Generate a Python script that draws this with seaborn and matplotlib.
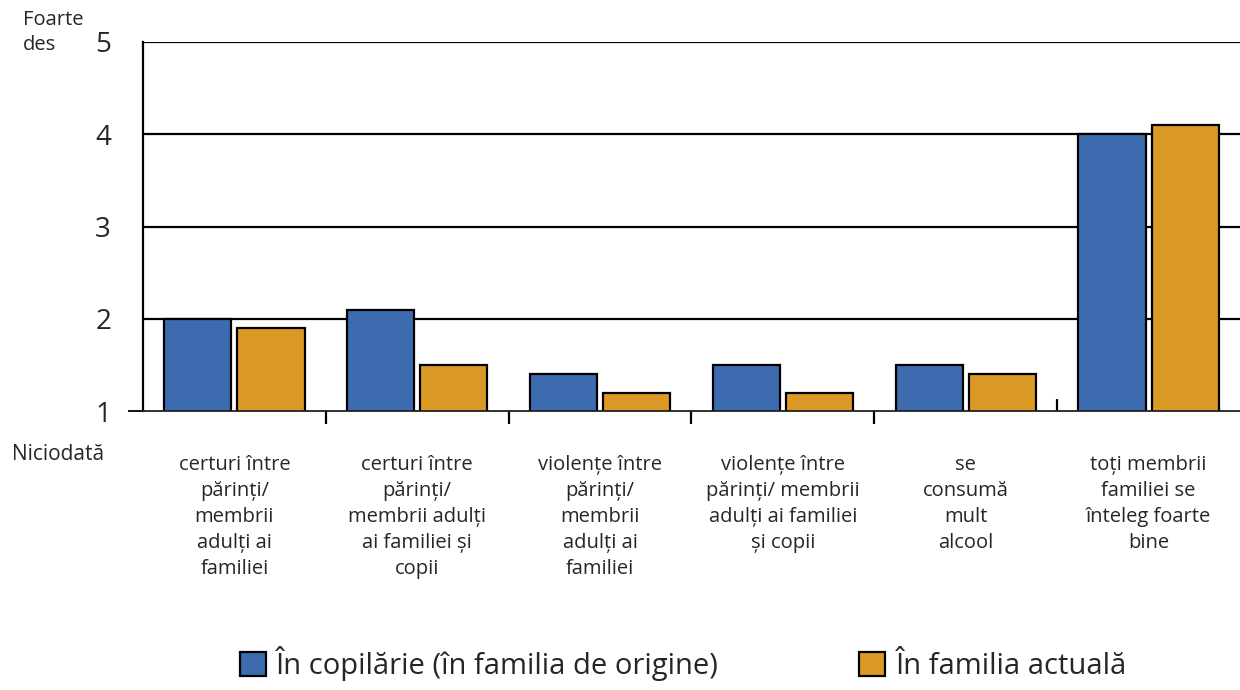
import matplotlib

matplotlib.use("Agg")
import matplotlib.pyplot as plt
import matplotlib.lines as mlines
import pandas as pd
import seaborn as sns

sns.set_theme(style="white")
plt.rcParams["font.family"] = ["Open Sans", "DejaVu Sans"]

categories = [
    "certuri între\npărinți/\nmembrii\nadulți ai\nfamiliei",
    "certuri între\npărinți/\nmembrii adulți\nai familiei și\ncopii",
    "violențe între\npărinți/\nmembrii\nadulți ai\nfamiliei",
    "violențe între\npărinți/ membrii\nadulți ai familiei\nși copii",
    "se\nconsumă\nmult\nalcool",
    "toți membrii\nfamiliei se\nînteleg foarte\nbine",
]
series = ["În copilărie (în familia de origine)", "În familia actuală"]
childhood = [2.0, 2.1, 1.4, 1.5, 1.5, 4.0]
current = [1.9, 1.5, 1.2, 1.2, 1.4, 4.1]
colors = ["#3D6BAF", "#DB9A26"]
y_ticks = [1, 2, 3, 4, 5]

df = pd.DataFrame({
    "cat": categories * 2,
    "serie": [series[0]] * len(categories) + [series[1]] * len(categories),
    "val": childhood + current,
})

fig = plt.figure(figsize=(12.4, 6.9), dpi=100)
ax = fig.add_axes([143 / 1240, 1 - 411 / 690, 1 - 143 / 1240, (411 - 42) / 690])

for y in y_ticks[1:]:
    ax.axhline(y, color="black", lw=1.6, zorder=0)

sns.barplot(
    data=df, x="cat", y="val", hue="serie", hue_order=series,
    palette=dict(zip(series, colors)), width=0.8, gap=0.08,
    edgecolor="black", linewidth=1.6, saturation=1, ax=ax, zorder=2,
)

ax.set_ylim(1, 5)
ax.set_xlim(-0.5, len(categories) - 0.5)
ax.set_xlabel("")
ax.set_ylabel("")

for side in ["top", "right"]:
    ax.spines[side].set_visible(False)
ax.spines["left"].set_color("black")
ax.spines["left"].set_linewidth(1.6)
ax.spines["bottom"].set_color("#222222")
ax.spines["bottom"].set_linewidth(1.3)

ax.set_yticks(y_ticks)
ax.set_yticklabels([str(t) for t in y_ticks], fontsize=20)
ax.tick_params(axis="y", left=True, length=11, width=1.3, color="black", pad=12)
for i, tick in enumerate(ax.yaxis.get_major_ticks()):
    if i > 0:
        tick.tick1line.set_visible(False)

ax.set_xticks(range(len(categories)))
ax.set_xticklabels(categories, fontsize=14.5, linespacing=1.4, va="top")
ax.tick_params(axis="x", which="major", length=0, pad=32)
ax.set_xticks([i + 0.5 for i in range(len(categories) - 1)], minor=True)
ax.tick_params(axis="x", which="minor", bottom=True, direction="out", length=9,
               width=1.6, color="black")
ax.xaxis.get_minor_ticks()[-1].tick1line.set_marker(mlines.TICKUP)

handles, labels = ax.get_legend_handles_labels()
ax.get_legend().remove()
fig.legend(handles, labels, loc="lower center", bbox_to_anchor=(0.551, -0.025),
           ncol=2, frameon=False, fontsize=21, handlelength=0.9,
           handleheight=0.9, handletextpad=0.35, columnspacing=4.8)

fig.text(23 / 1240, 1 - 10 / 690, "Foarte\ndes", fontsize=14.5, va="top",
         ha="left", linespacing=1.35)
fig.text(12 / 1240, 1 - 455 / 690, "Niciodată", fontsize=15, va="center",
         ha="left")

fig.savefig("out.png", dpi=100)
